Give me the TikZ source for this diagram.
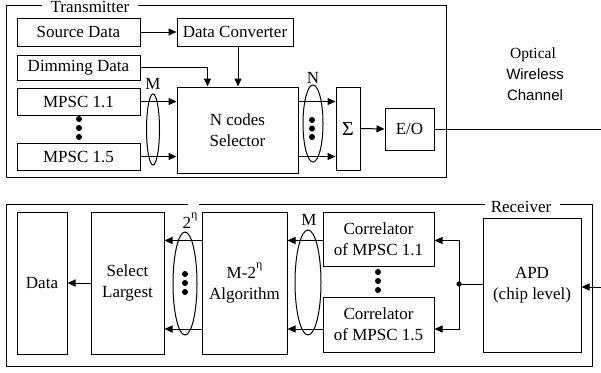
\documentclass[tikz,border=0pt]{standalone}
\usepackage{fontspec}
\setmainfont{Liberation Serif}
\setsansfont{Liberation Sans}
\usetikzlibrary{arrows.meta,calc}
% raised eta used as an exponent
\newcommand{\etasup}{\raisebox{0.55em}{\fontsize{12}{12}\selectfont η}}

\begin{document}
\begin{tikzpicture}[x=1pt,y=-1pt,
  every node/.style={font=\fontsize{17}{21}\selectfont, inner sep=0pt},
  blk/.style={draw, line width=1pt, align=center},
  arr/.style={line width=1pt, -{Triangle[length=8pt,width=7pt]}},
  wire/.style={line width=1pt},
  bus/.style={line width=1pt},
  dotmark/.style={circle, fill, inner sep=0pt, minimum size=6pt},
  tag/.style={anchor=base, fill=white, inner xsep=0pt}]

\useasboundingbox (0,0) rectangle (601,372);

% ---------------- transmitter ----------------
\draw[wire] (42,5) -- (6,5) -- (6,177) -- (446,177) -- (446,5) -- (138,5);
\node[tag] (txlabel) at (90,12.5) {Transmitter};

\node[blk, minimum width=123, minimum height=28] (src)  at (78.5,32)   {Source Data};
\node[blk, minimum width=116, minimum height=28] (conv) at (235,32)    {Data Converter};
\node[blk, minimum width=123, minimum height=25] (dim)  at (78.5,67.5) {Dimming Data};
\node[blk, minimum width=123, minimum height=27] (m11)  at (78.5,101.5) {MPSC 1.1};
\node[blk, minimum width=123, minimum height=27] (m15)  at (78.5,156.5) {MPSC 1.5};
\node[blk, minimum width=121, minimum height=86] (sel)  at (237.5,130) {N codes\\Selector};
\node[blk, minimum width=24,  minimum height=83, font=\fontsize{20}{22}\selectfont] (sig) at (348,128.5) {Σ};
\node[blk, minimum width=49,  minimum height=42] (eo)   at (409.5,129) {E/O};

\node[dotmark] (td1) at (79,119) {};
\node[dotmark] (td2) at (79,128) {};
\node[dotmark] (td3) at (79,137) {};

% feed points on the selector's top side
\coordinate (convout) at ($(conv.south)+(3,0)$);
\coordinate (dimin) at ($(sel.north west)+(31,0)$);

\draw[arr] (src.east) -- (conv.west);
\draw[arr] (convout) -- (convout |- sel.north);
\draw[arr] (dim.east) -| (dimin);
\draw[arr] (m11.east) -- (m11.east -| sel.west);
\draw[arr] (m15.east) -- (m15.east -| sel.west);
\draw[arr] (sel.east |- m11.east) -- (sig.west |- m11.east);
\draw[arr] (sel.east |- m15.east) -- (sig.west |- m15.east);
\draw[arr] (sig.east) -- (eo.west);

% code buses
\draw[bus] (153,129.5) ellipse [x radius=6.5, y radius=35.5];
\node[anchor=base] (mlab) at (153,89) {M};
\draw[bus] (313,123.5) ellipse [x radius=10, y radius=38.5];
\node[anchor=base] (nlab) at (313,83) {N};
\node[dotmark] (nd1) at (312,120) {};
\node[dotmark] (nd2) at (312,128.5) {};
\node[dotmark] (nd3) at (312,137) {};

% channel
\coordinate (chan) at (601,129);
\draw[wire] (eo.east) -- (chan);
\node[anchor=base, font=\fontsize{15.5}{18}\selectfont] (opt) at (533,58) {Optical};
\node[anchor=base, font=\sffamily\fontsize{15}{18}\selectfont] (wl) at (535,79) {Wireless};
\node[anchor=base, font=\sffamily\fontsize{15}{18}\selectfont] (ch) at (535,100) {Channel};

% ---------------- receiver ----------------
\draw[wire] (188,204) -- (6,204) -- (6,366) -- (592,366) -- (592,204) -- (560,204);
\draw[wire] (199,204) -- (485,204);
\node[tag] (rxlabel) at (521,212) {Receiver};

\node[blk, minimum width=50,  minimum height=142] (data) at (42,283)    {Data};
\node[blk, minimum width=73,  minimum height=142] (slct) at (127.5,283) {Select\\Largest};
\node[blk, minimum width=85,  minimum height=142] (alg)  at (244.5,283) {M-2\etasup\\Algorithm};
\node[blk, minimum width=111, minimum height=54]  (cor1) at (378.5,239) {Correlator\\of MPSC 1.1};
\node[blk, minimum width=111, minimum height=55]  (cor5) at (378.5,324.5) {Correlator\\of MPSC 1.5};
\node[blk, minimum width=98,  minimum height=134] (apd)  at (532,285)   {APD\\(chip level)};

\coordinate (rowA) at (0,240.5);
\coordinate (rowB) at (0,329);
\coordinate (rxin) at (601,287);
\coordinate (j) at (459,284);

\draw[arr] (rxin) -- (rxin -| apd.east);
\draw[wire] (apd.west |- j) -- (j);
\fill (j) circle (2.6);
\draw[arr] (j) |- (rowA -| cor1.east);
\draw[arr] (j) |- (rowB -| cor5.east);
\draw[arr] (rowA -| cor1.west) -- (rowA -| alg.east);
\draw[arr] (rowB -| cor5.west) -- (rowB -| alg.east);
\draw[arr] (rowA -| alg.west) -- (rowA -| slct.east);
\draw[arr] (rowB -| alg.west) -- (rowB -| slct.east);
\draw[arr] (slct.west) -- (data.east);

\node[dotmark] (cd1) at (378,272) {};
\node[dotmark] (cd2) at (378,281) {};
\node[dotmark] (cd3) at (378,290) {};
\node[dotmark] (ed1) at (185,274) {};
\node[dotmark] (ed2) at (185,283) {};
\node[dotmark] (ed3) at (185,292) {};

\draw[bus] (185,283.5) ellipse [x radius=12, y radius=51.5];
\node[anchor=base] (elab) at (190,228) {2\etasup};
\draw[bus] (308,282.5) ellipse [x radius=13, y radius=52.5];
\node[anchor=base] (mrlab) at (309,225) {M};
\end{tikzpicture}
\end{document}
